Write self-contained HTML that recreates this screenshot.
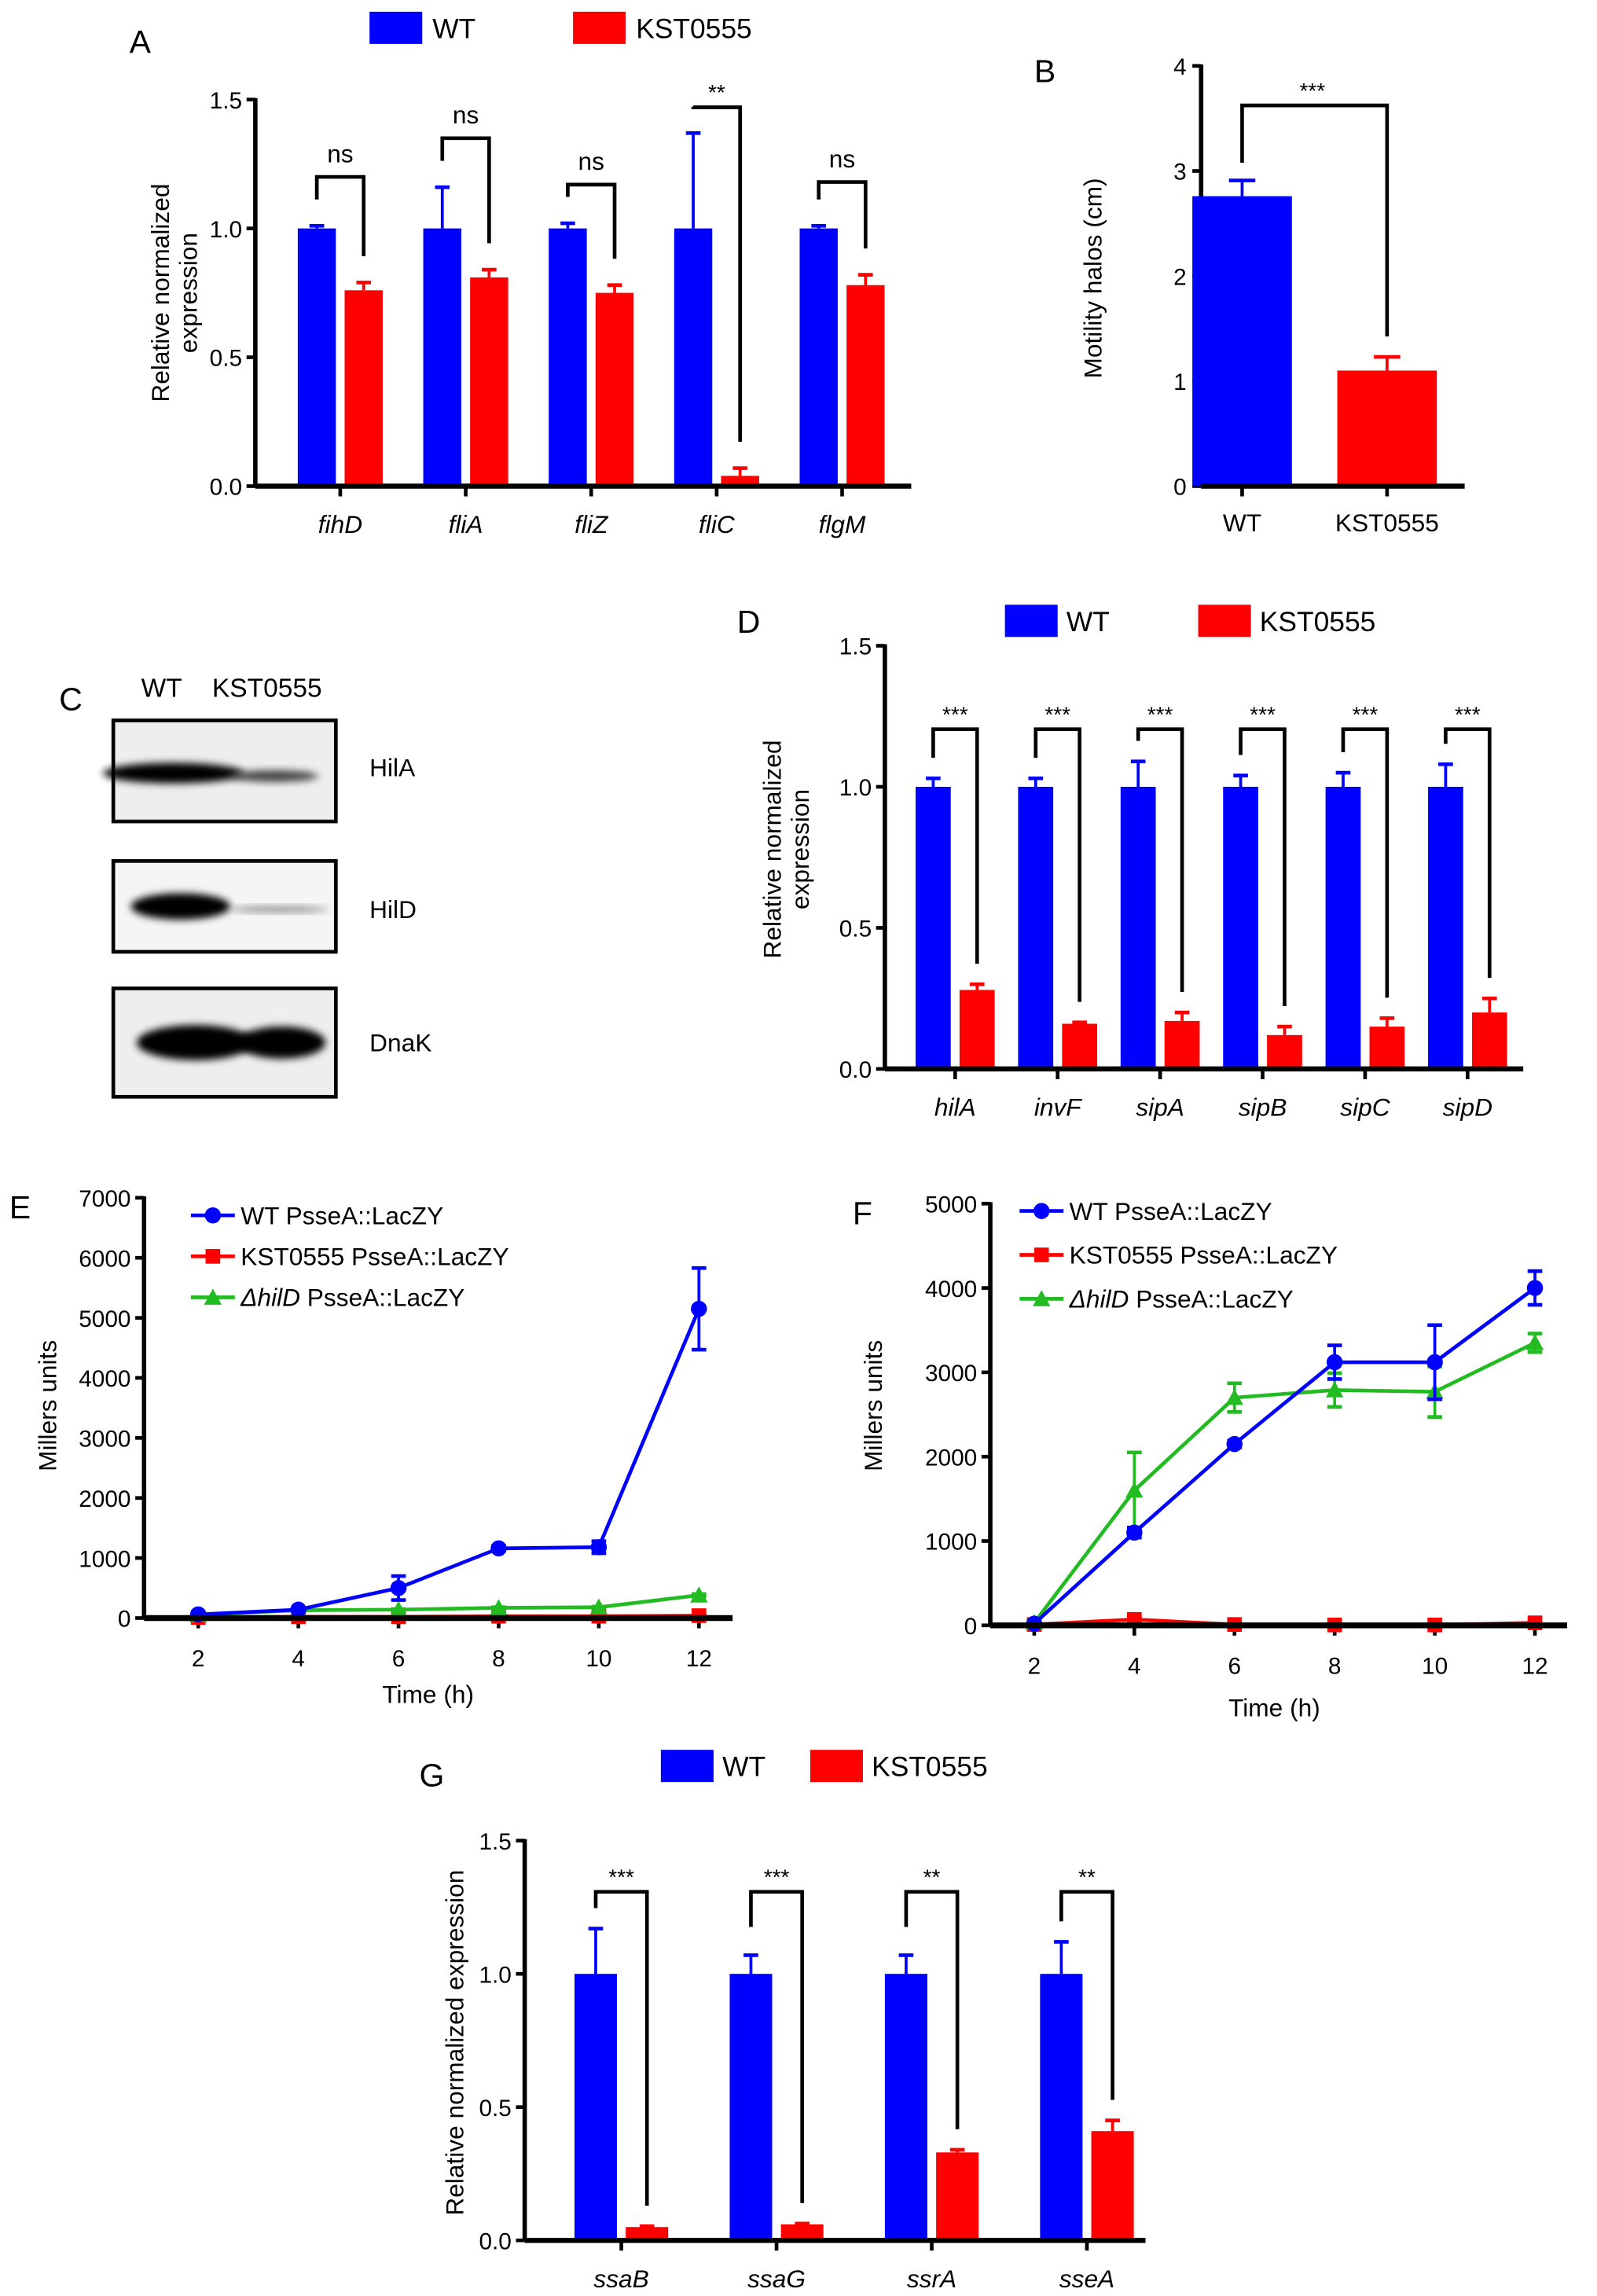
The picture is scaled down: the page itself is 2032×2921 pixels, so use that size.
<!DOCTYPE html>
<html><head><meta charset="utf-8"><style>
html,body{margin:0;padding:0;background:#fff;}
svg{display:block;font-family:"Liberation Sans",sans-serif;}
</style></head><body>
<svg id="fig" width="2032" height="2921" viewBox="0 0 1090 1568" xmlns="http://www.w3.org/2000/svg">
<defs>
<filter id="blur" x="-20%" y="-50%" width="140%" height="200%"><feGaussianBlur stdDeviation="2.5"/></filter>
</defs>
<g>
<text x="40" y="485" font-size="22">C</text>
<text x="110" y="476" font-size="18" text-anchor="middle">WT</text>
<text x="182" y="476" font-size="18" text-anchor="middle">KST0555</text>
<rect x="77" y="492" width="152" height="69" fill="#eeeeee" stroke="#000" stroke-width="2.5"/>
<ellipse cx="118" cy="528" rx="48" ry="7" fill="#000" filter="url(#blur)"/>
<ellipse cx="187" cy="530" rx="30" ry="4" fill="#444" filter="url(#blur)"/>
<rect x="77" y="588" width="152" height="62" fill="#f5f5f5" stroke="#000" stroke-width="2.5"/>
<ellipse cx="123" cy="619" rx="34" ry="9" fill="#000" filter="url(#blur)"/>
<ellipse cx="190" cy="621" rx="34" ry="2" fill="#888" filter="url(#blur)"/>
<rect x="77" y="675" width="152" height="74" fill="#eeeeee" stroke="#000" stroke-width="2.5"/>
<ellipse cx="133" cy="712" rx="40" ry="12" fill="#000" filter="url(#blur)"/>
<ellipse cx="192" cy="712" rx="30" ry="11" fill="#000" filter="url(#blur)"/>
<text x="252" y="530" font-size="17">HilA</text>
<text x="252" y="627" font-size="17">HilD</text>
<text x="252" y="718" font-size="17">DnaK</text>
</g>
</svg>
<script>
// ---- Panel A data ----
const aCategories = ["fihD","fliA","fliZ","fliC","flgM"];
const aWT = [1,1,1,1,1];
const aWTErr = [0.01,0.16,0.02,0.37,0.01];
const aKST = [0.76,0.81,0.75,0.04,0.78];
const aKSTErr = [0.03,0.03,0.03,0.03,0.04];
const aSig = ["ns","ns","ns","**","ns"];
const aBracket = [1.20,1.35,1.17,1.47,1.18];
const aTicks = [0,0.5,1.0,1.5];
// ---- Panel B data ----
const bCategories = ["WT","KST0555"];
const bValues = [2.76,1.1];
const bErr = [0.15,0.13];
const bTicks = [0,1,2,3,4];
// ---- Panel D data ----
const dCategories = ["hilA","invF","sipA","sipB","sipC","sipD"];
const dWT = [1,1,1,1,1,1];
const dWTErr = [0.03,0.03,0.09,0.04,0.05,0.08];
const dKST = [0.28,0.16,0.17,0.12,0.15,0.2];
const dKSTErr = [0.02,0.005,0.03,0.03,0.03,0.05];
const dSig = ["***","***","***","***","***","***"];
const dTicks = [0,0.5,1.0,1.5];
// ---- Panel E data ----
const eTimes = [2,4,6,8,10,12];
const eWT = [60,140,500,1160,1180,5150];
const eWTErr = [30,30,200,40,100,680];
const eKST = [10,20,20,30,30,40];
const eKSTErr = [10,10,10,10,10,10];
const eHilD = [50,130,140,170,180,380];
const eHilDErr = [10,10,10,10,10,20];
const eTicks = [0,1000,2000,3000,4000,5000,6000,7000];
// ---- Panel F data ----
const fTimes = [2,4,6,8,10,12];
const fWT = [20,1100,2150,3120,3120,4000];
const fWTErr = [20,60,40,200,440,200];
const fKST = [10,70,10,5,5,30];
const fKSTErr = [10,20,10,10,10,10];
const fHilD = [30,1600,2700,2790,2770,3350];
const fHilDErr = [20,450,170,200,300,110];
const fTicks = [0,1000,2000,3000,4000,5000];
// ---- Panel G data ----
const gCategories = ["ssaB","ssaG","ssrA","sseA"];
const gWT = [1,1,1,1];
const gWTErr = [0.17,0.07,0.07,0.12];
const gKST = [0.05,0.06,0.33,0.41];
const gKSTErr = [0.003,0.003,0.01,0.04];
const gSig = ["***","***","**","**"];
const gTicks = [0,0.5,1.0,1.5];

const BLUE="#0000ff", RED="#ff0000", GREEN="#22bb22";
const svg=document.getElementById('fig');
const NS="http://www.w3.org/2000/svg";
function mk(tag,attrs,parent,text){const e=document.createElementNS(NS,tag);for(const k in attrs)e.setAttribute(k,attrs[k]);if(text!==undefined)e.textContent=text;(parent||svg).appendChild(e);return e;}
function grp(name){const g=mk('g',{});


return g;}
function label(g,x,y,t,size,anchor,extra){const e=mk('text',Object.assign({x:x,y:y,'font-size':size,'text-anchor':anchor||'start'},extra||{}),g,t);


return e;}
function legendBox(g,x,y,w,h,color,t,tx){const r=mk('rect',{x:x,y:y,width:w,height:h,fill:color},g);


label(g,tx,y+h-4,t,19);}

function groupedBar(cfg){
 const g=grp(cfg.name);
 const y=v=>cfg.y0-(v-cfg.vmin)/(cfg.vmax-cfg.vmin)*(cfg.y0-cfg.y1);
 mk('line',{x1:cfg.ax,y1:cfg.y1-1,x2:cfg.ax,y2:cfg.y0,stroke:'#000','stroke-width':3},g);
 cfg.ticks.forEach(t=>{mk('line',{x1:cfg.ax-6,y1:y(t),x2:cfg.ax,y2:y(t),stroke:'#000','stroke-width':2.5},g);
  label(g,cfg.ax-9,y(t)+6,t.toFixed(1),16,'end');});
 cfg.cats.forEach((c,i)=>{
  const cx=cfg.cx0+i*cfg.step;
  const bw=cfg.bw, gap=cfg.gap;
  [[cfg.wt,cfg.wtErr,BLUE,cx-gap-bw],[cfg.kst,cfg.kstErr,RED,cx+gap]].forEach(([vals,errs,col,bx],k)=>{
   const r=mk('rect',{x:bx,y:y(vals[i]),width:bw,height:cfg.y0-y(vals[i]),fill:col},g);
   
   
   const ex=bx+bw/2, et=y(vals[i]+errs[i]);
   mk('line',{x1:ex,y1:y(vals[i]),x2:ex,y2:et,stroke:col,'stroke-width':2},g);
   mk('line',{x1:ex-5,y1:et,x2:ex+5,y2:et,stroke:col,'stroke-width':2.5},g);
  });
  mk('line',{x1:cx,y1:cfg.y0,x2:cx,y2:cfg.y0+7,stroke:'#000','stroke-width':2.5},g);
  label(g,cx,cfg.y0+32,c,17,'middle',{'font-style':'italic'});
  const lx=cx-gap-bw/2, rx=cx+gap+bw/2;
  const by=cfg.bracket?y(cfg.bracket[i]):cfg.by;
  const lTop=y(cfg.wt[i]+cfg.wtErr[i])-cfg.pad, rTop=y(cfg.kst[i]+cfg.kstErr[i])-cfg.pad;
  const ly=cfg.leftDrop?by+cfg.leftDrop:lTop;
  mk('path',{d:`M${lx},${Math.min(ly,lTop)} L${lx},${by} L${rx},${by} L${rx},${rTop}`,fill:'none',stroke:'#000','stroke-width':2.5},g);
  label(g,cx,by-(cfg.sig[i]==='ns'?10:5),cfg.sig[i],cfg.sig[i]==='ns'?17:15,'middle');
 });
 mk('line',{x1:cfg.ax,y1:cfg.y0,x2:cfg.xend,y2:cfg.y0,stroke:'#000','stroke-width':3.5},g);
 return g;
}

// Panel A
let gA=groupedBar({name:'panel-a-flagellar-expression',cats:aCategories,wt:aWT,wtErr:aWTErr,kst:aKST,kstErr:aKSTErr,sig:aSig,bracket:aBracket,ticks:aTicks,
 vmin:0,vmax:1.5,y0:332,y1:68,ax:174,xend:622,cx0:232,step:85.7,bw:26,gap:3,pad:18,leftDrop:18});
label(gA,88,36,'A',22);
legendBox(gA,252,8,36,22,BLUE,'WT',295);
legendBox(gA,391,8,36,22,RED,'KST0555',434);
label(gA,0,0,'Relative normalized',17,'middle',{transform:'translate(115,200) rotate(-90)'});
label(gA,0,0,'expression',17,'middle',{transform:'translate(134,200) rotate(-90)'});

// Panel D
let gD=groupedBar({name:'panel-d-spi1-expression',cats:dCategories,wt:dWT,wtErr:dWTErr,kst:dKST,kstErr:dKSTErr,sig:dSig,by:498,ticks:dTicks,
 vmin:0,vmax:1.5,y0:730,y1:441,ax:604,xend:1040,cx0:652,step:70,bw:24,gap:3,pad:14,leftDrop:22});
label(gD,503,432,'D',22);
legendBox(gD,686,413,36,22,BLUE,'WT',728);
legendBox(gD,818,413,36,22,RED,'KST0555',860);
label(gD,0,0,'Relative normalized',17,'middle',{transform:'translate(533,580) rotate(-90)'});
label(gD,0,0,'expression',17,'middle',{transform:'translate(552,580) rotate(-90)'});

// Panel G
let gG=groupedBar({name:'panel-g-spi2-expression',cats:gCategories,wt:gWT,wtErr:gWTErr,kst:gKST,kstErr:gKSTErr,sig:gSig,by:1292,ticks:gTicks,
 vmin:0,vmax:1.5,y0:1530,y1:1257,ax:358,xend:782,cx0:424,step:106,bw:29,gap:3,pad:14,leftDrop:24});
label(gG,286,1220,'G',22);
legendBox(gG,451,1195,36,22,BLUE,'WT',493);
legendBox(gG,553,1195,36,22,RED,'KST0555',595);
label(gG,0,0,'Relative normalized expression',17,'middle',{transform:'translate(316,1395) rotate(-90)'});

// Panel B
(function(){
 const g=grp('panel-b-motility');
 const y0=332,y1=45,ax=820,y=v=>y0-v/4*(y0-y1);
 const cx=[848,947];
 mk('line',{x1:ax,y1:y1-1,x2:ax,y2:y0,stroke:'#000','stroke-width':3},g);
 bTicks.forEach(t=>{mk('line',{x1:ax-6,y1:y(t),x2:ax,y2:y(t),stroke:'#000','stroke-width':2.5},g);label(g,ax-10,y(t)+6,String(t),16,'end');});
 bCategories.forEach((c,i)=>{
  const col=i?RED:BLUE;
  const r=mk('rect',{x:cx[i]-34,y:y(bValues[i]),width:68,height:y0-y(bValues[i]),fill:col},g);
  
  
  const et=y(bValues[i]+bErr[i]);
  mk('line',{x1:cx[i],y1:y(bValues[i]),x2:cx[i],y2:et,stroke:col,'stroke-width':2},g);
  mk('line',{x1:cx[i]-9,y1:et,x2:cx[i]+9,y2:et,stroke:col,'stroke-width':2.5},g);
  mk('line',{x1:cx[i],y1:y0,x2:cx[i],y2:y0+7,stroke:'#000','stroke-width':2.5},g);
  label(g,cx[i],y0+31,c,17,'middle');
 });
 mk('line',{x1:ax,y1:y0,x2:1000,y2:y0,stroke:'#000','stroke-width':3.5},g);
 mk('path',{d:`M${cx[0]},${y(bValues[0]+bErr[0])-12} L${cx[0]},72 L${cx[1]},72 L${cx[1]},${y(bValues[1]+bErr[1])-14}`,fill:'none',stroke:'#000','stroke-width':2.5},g);
 label(g,896,67,'***',15,'middle');
 label(g,706,56,'B',22);
 label(g,0,0,'Motility halos (cm)',17,'middle',{transform:'translate(752,190) rotate(-90)'});
})();

function linePanel(cfg){
 const g=grp(cfg.name);
 const x=t=>cfg.x0+(t-2)/10*(cfg.x1-cfg.x0);
 const y=v=>cfg.y0-v/cfg.vmax*(cfg.y0-cfg.y1);
 mk('line',{x1:cfg.ax,y1:cfg.y1-1,x2:cfg.ax,y2:cfg.y0,stroke:'#000','stroke-width':3},g);
 cfg.ticks.forEach(t=>{mk('line',{x1:cfg.ax-6,y1:y(t),x2:cfg.ax,y2:y(t),stroke:'#000','stroke-width':2.5},g);label(g,cfg.ax-9,y(t)+6,String(t),16,'end');});
 cfg.times.forEach(t=>{mk('line',{x1:x(t),y1:cfg.y0,x2:x(t),y2:cfg.y0+7,stroke:'#000','stroke-width':2.5},g);label(g,x(t),cfg.y0+33,String(t),16,'middle');});
 const series=[[cfg.kst,cfg.kstErr,RED,'sq','kst0555'],[cfg.hild,cfg.hildErr,GREEN,'tri','hild'],[cfg.wt,cfg.wtErr,BLUE,'circ','wt']];
 series.forEach(([vals,errs,col,m,nm])=>{
  const p=mk('polyline',{points:cfg.times.map((t,i)=>x(t)+','+y(vals[i])).join(' '),fill:'none',stroke:col,'stroke-width':2.5},g);
  
  
  cfg.times.forEach((t,i)=>{
   const cx=x(t),cy=y(vals[i]),eu=y(vals[i]+errs[i]),ed=y(Math.max(vals[i]-errs[i],0));
   mk('line',{x1:cx,y1:eu,x2:cx,y2:ed,stroke:col,'stroke-width':2},g);
   mk('line',{x1:cx-5,y1:eu,x2:cx+5,y2:eu,stroke:col,'stroke-width':2.5},g);
   mk('line',{x1:cx-5,y1:ed,x2:cx+5,y2:ed,stroke:col,'stroke-width':2.5},g);
   marker(g,m,cx,cy,col);
  });
 });
 mk('line',{x1:cfg.ax,y1:cfg.y0,x2:cfg.xend,y2:cfg.y0,stroke:'#000','stroke-width':4},g);
 const ly=cfg.legY, names=['WT PsseA::LacZY','KST0555 PsseA::LacZY','hilD'];
 [[BLUE,'circ'],[RED,'sq'],[GREEN,'tri']].forEach(([col,m],i)=>{
  const yy=ly+i*cfg.legStep;
  mk('line',{x1:cfg.legX,y1:yy,x2:cfg.legX+30,y2:yy,stroke:col,'stroke-width':2.5},g);
  marker(g,m,cfg.legX+15,yy,col);
  if(i<2) label(g,cfg.legX+34,yy+6,names[i],17);
  else{const t=mk('text',{x:cfg.legX+34,y:yy+6,'font-size':17},g);
   
   
   mk('tspan',{'font-style':'italic'},t,'ΔhilD');mk('tspan',{},t,' PsseA::LacZY');}
 });
 label(g,cfg.tx,cfg.ty,'Time (h)',17,'middle');
 label(g,0,0,'Millers units',17,'middle',{transform:`translate(${cfg.yx},${cfg.yy}) rotate(-90)`});
 label(g,cfg.lx,cfg.lyy,cfg.letter,22);
}
function marker(g,m,cx,cy,col){
 if(m==='circ')mk('circle',{cx:cx,cy:cy,r:5.5,fill:col},g);
 else if(m==='sq')mk('rect',{x:cx-5,y:cy-5,width:10,height:10,fill:col},g);
 else mk('polygon',{points:`${cx},${cy-6} ${cx-6},${cy+5} ${cx+6},${cy+5}`,fill:col},g);
}
linePanel({name:'panel-e-ssea-reporter',times:eTimes,wt:eWT,wtErr:eWTErr,kst:eKST,kstErr:eKSTErr,hild:eHilD,hildErr:eHilDErr,ticks:eTicks,
 vmax:7000,y0:1105,y1:818,ax:98,x0:135,x1:477,xend:500,legX:130,legY:830,legStep:28,tx:292,ty:1163,yx:38,yy:960,lx:6,lyy:832,letter:'E'});
linePanel({name:'panel-f-ssea-reporter',times:fTimes,wt:fWT,wtErr:fWTErr,kst:fKST,kstErr:fKSTErr,hild:fHilD,hildErr:fHilDErr,ticks:fTicks,
 vmax:5000,y0:1110,y1:822,ax:676,x0:706,x1:1048,xend:1070,legX:696,legY:827,legStep:30,tx:870,ty:1172,yx:602,yy:960,lx:582,lyy:836,letter:'F'});
</script>
</body></html>
